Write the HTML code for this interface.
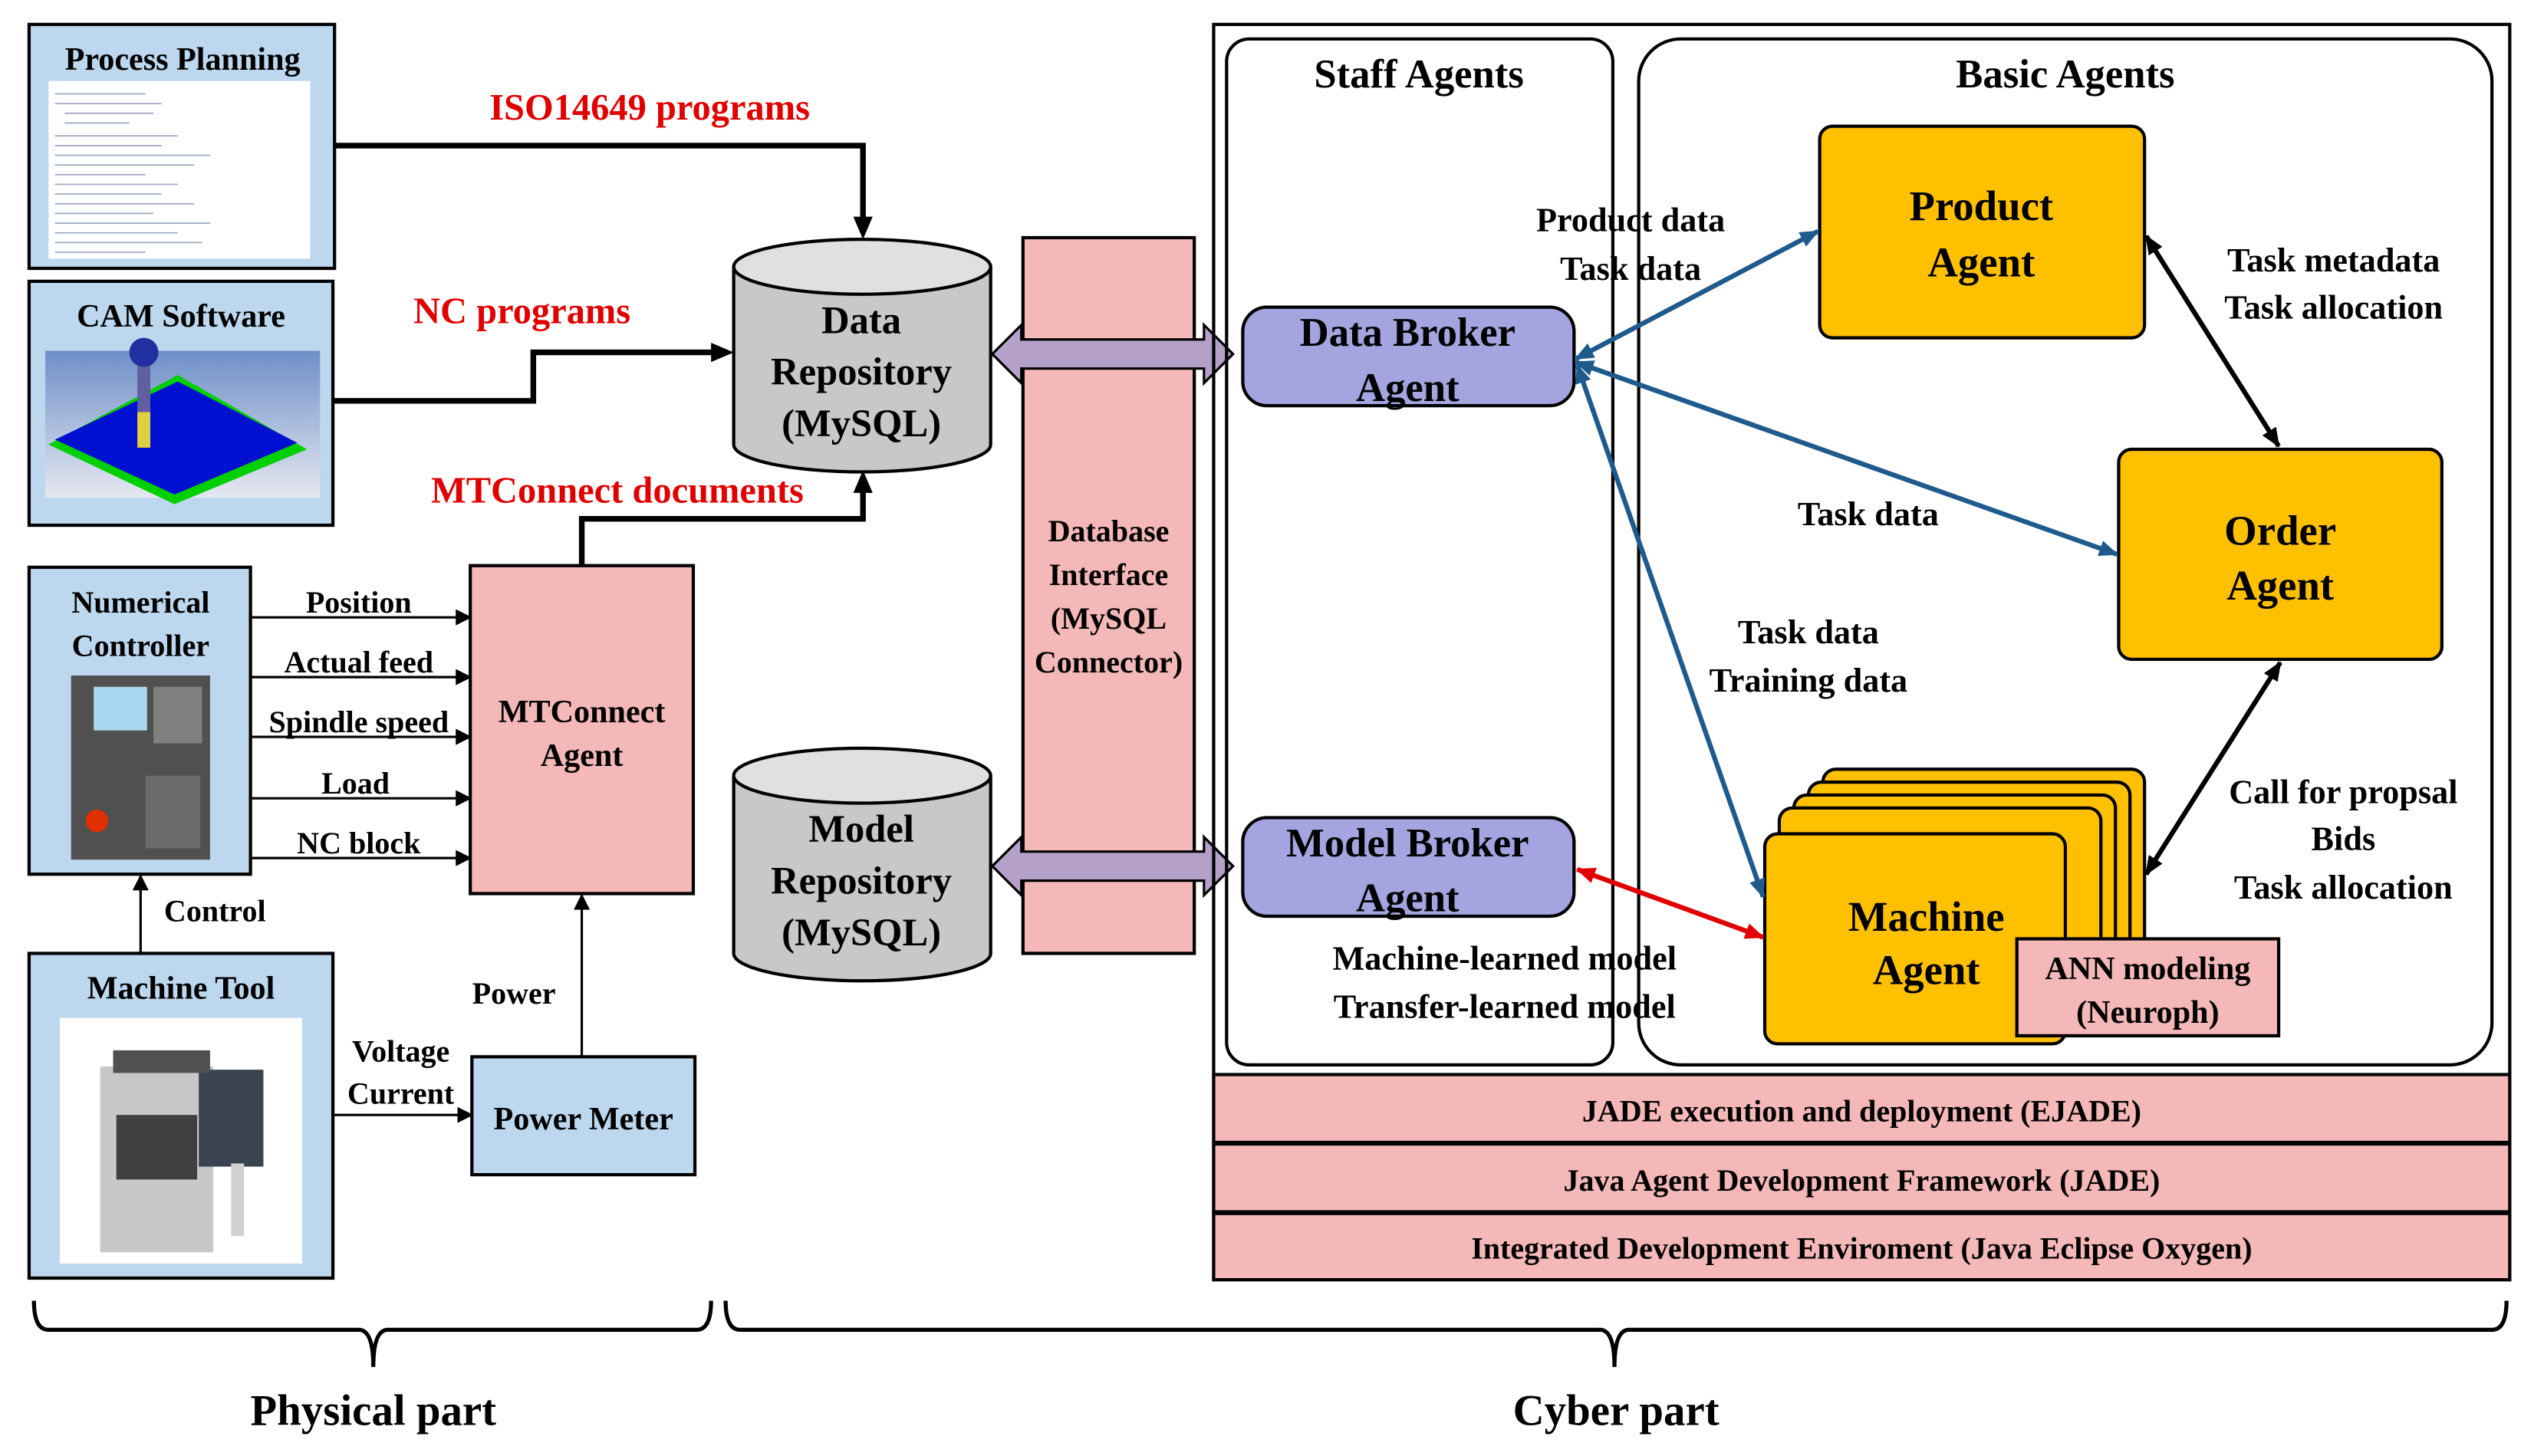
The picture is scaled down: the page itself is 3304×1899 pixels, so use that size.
<!DOCTYPE html>
<html><head><meta charset="utf-8"><style>
html,body{margin:0;padding:0;background:#fff;}
svg{display:block;}
text{font-family:"Liberation Serif",serif;font-weight:bold;}
</style></head><body>
<svg width="3304" height="1899" viewBox="0 0 1568 901" xmlns="http://www.w3.org/2000/svg">
<defs>
<marker id="ab" markerWidth="10" markerHeight="10" refX="9" refY="5" orient="auto-start-reverse" markerUnits="userSpaceOnUse"><path d="M0,0 L10,5 L0,10 z" fill="#000"/></marker>
<marker id="abl" markerWidth="12" markerHeight="10" refX="11" refY="5" orient="auto-start-reverse" markerUnits="userSpaceOnUse"><path d="M0,0 L12,5 L0,10 z" fill="#1f5a8c"/></marker>
<marker id="ar" markerWidth="12" markerHeight="10" refX="11" refY="5" orient="auto-start-reverse" markerUnits="userSpaceOnUse"><path d="M0,0 L12,5 L0,10 z" fill="#e00000"/></marker>
<marker id="ak" markerWidth="12" markerHeight="10" refX="11" refY="5" orient="auto-start-reverse" markerUnits="userSpaceOnUse"><path d="M0,0 L12,5 L0,10 z" fill="#000"/></marker>
<linearGradient id="camg" x1="0" y1="0" x2="0" y2="1"><stop offset="0" stop-color="#6e8fc8"/><stop offset="1" stop-color="#e6e8f0"/></linearGradient>
</defs>
<g fill="#000">
<rect x="18" y="15" width="189" height="151" fill="#bdd7ee" stroke="#000" stroke-width="2"/>
<text x="113" y="43" font-size="20" text-anchor="middle">Process Planning</text>
<rect x="30" y="50" width="162" height="110" fill="#fff"/>
<g stroke="#9aa4c0" stroke-width="0.8">
<line x1="34" y1="58" x2="90" y2="58"/><line x1="34" y1="64" x2="100" y2="64"/><line x1="40" y1="70" x2="95" y2="70"/><line x1="40" y1="76" x2="80" y2="76"/><line x1="34" y1="84" x2="110" y2="84"/><line x1="34" y1="90" x2="100" y2="90"/><line x1="34" y1="96" x2="130" y2="96"/><line x1="34" y1="102" x2="120" y2="102"/><line x1="34" y1="108" x2="90" y2="108"/><line x1="34" y1="114" x2="110" y2="114"/><line x1="34" y1="120" x2="100" y2="120"/><line x1="34" y1="126" x2="120" y2="126"/><line x1="34" y1="132" x2="95" y2="132"/><line x1="34" y1="138" x2="130" y2="138"/><line x1="34" y1="144" x2="110" y2="144"/><line x1="34" y1="150" x2="125" y2="150"/><line x1="34" y1="156" x2="90" y2="156"/>
</g>
<rect x="18" y="174" width="188" height="151" fill="#bdd7ee" stroke="#000" stroke-width="2"/>
<text x="112" y="202" font-size="20" text-anchor="middle">CAM Software</text>
<rect x="28" y="217" width="170" height="91" fill="url(#camg)"/>
<polygon points="30,275 110,232 190,278 108,312" fill="#00d000"/>
<polygon points="34,272 110,236 184,274 108,306" fill="#0010d0"/>
<rect x="85" y="215" width="8" height="45" fill="#6060a0"/><rect x="85" y="255" width="8" height="22" fill="#e0d040"/>
<circle cx="89" cy="218" r="9" fill="#2030a0"/>
<rect x="18" y="351" width="137" height="190" fill="#bdd7ee" stroke="#000" stroke-width="2"/>
<text x="87" y="379" font-size="19" text-anchor="middle">Numerical</text>
<text x="87" y="406" font-size="19" text-anchor="middle">Controller</text>
<rect x="44" y="418" width="86" height="114" fill="#505050"/>
<rect x="58" y="425" width="33" height="27" fill="#a8d8f0"/>
<rect x="95" y="425" width="30" height="35" fill="#808080"/>
<circle cx="60" cy="508" r="7" fill="#e03000"/><rect x="90" y="480" width="34" height="45" fill="#6a6a6a"/>
<rect x="18" y="590" width="188" height="201" fill="#bdd7ee" stroke="#000" stroke-width="2"/>
<text x="112" y="618" font-size="20" text-anchor="middle">Machine Tool</text>
<rect x="37" y="630" width="150" height="152" fill="#fff"/>
<rect x="62" y="660" width="70" height="115" fill="#c8c8c8"/><rect x="72" y="690" width="50" height="40" fill="#404040"/>
<rect x="123" y="662" width="40" height="60" fill="#3a4450"/><rect x="143" y="720" width="8" height="45" fill="#d0d0d0"/>
<rect x="70" y="650" width="60" height="14" fill="#505050"/>
<rect x="291" y="350" width="138" height="203" fill="#f4b8b8" stroke="#000" stroke-width="2"/>
<text x="360" y="447" font-size="20" text-anchor="middle">MTConnect</text>
<text x="360" y="474" font-size="20" text-anchor="middle">Agent</text>
<rect x="292" y="654" width="138" height="73" fill="#bdd7ee" stroke="#000" stroke-width="2"/>
<text x="361" y="699" font-size="20" text-anchor="middle">Power Meter</text>
<g stroke="#000" stroke-width="1.5" fill="none" marker-end="url(#ab)">
<line x1="155" y1="382" x2="291" y2="382"/><line x1="155" y1="419" x2="291" y2="419"/><line x1="155" y1="456" x2="291" y2="456"/><line x1="155" y1="494" x2="291" y2="494"/><line x1="155" y1="531" x2="291" y2="531"/>
<line x1="87" y1="590" x2="87" y2="542"/><line x1="206" y1="690" x2="292" y2="690"/><line x1="360" y1="654" x2="360" y2="554"/>
</g>
<g font-size="19" text-anchor="middle">
<text x="222" y="379">Position</text><text x="222" y="416">Actual feed</text><text x="222" y="453">Spindle speed</text><text x="220" y="491">Load</text><text x="222" y="528">NC block</text>
<text x="133" y="570">Control</text><text x="318" y="621">Power</text><text x="248" y="657">Voltage</text><text x="248" y="683">Current</text>
</g>
<g stroke="#000" stroke-width="3.5" fill="none">
<polyline points="207,90 534,90 534,136"/><polyline points="206,248 330,248 330,218 442,218"/><polyline points="360,350 360,321 534,321 534,303"/>
</g>
<path d="M528,134 L540,134 L534,148 z"/><path d="M440,212 L440,224 L454,218 z"/><path d="M528,305 L540,305 L534,291 z"/>
<g fill="#e00000" font-size="23" text-anchor="middle">
<text x="402" y="74">ISO14649 programs</text><text x="323" y="200">NC programs</text><text x="382" y="311">MTConnect documents</text>
</g>
<path d="M454,165 L454,275 A79.5,17 0 0 0 613,275 L613,165" fill="#c8c8c8" stroke="#000" stroke-width="2"/>
<ellipse cx="533.5" cy="165" rx="79.5" ry="17" fill="#e0e0e0" stroke="#000" stroke-width="2"/>
<g font-size="24" text-anchor="middle"><text x="533" y="206">Data</text><text x="533" y="238">Repository</text><text x="533" y="270">(MySQL)</text></g>
<path d="M454,480 L454,590 A79.5,17 0 0 0 613,590 L613,480" fill="#c8c8c8" stroke="#000" stroke-width="2"/>
<ellipse cx="533.5" cy="480" rx="79.5" ry="17" fill="#e0e0e0" stroke="#000" stroke-width="2"/>
<g font-size="24" text-anchor="middle"><text x="533" y="521">Model</text><text x="533" y="553">Repository</text><text x="533" y="585">(MySQL)</text></g>
<rect x="633" y="147" width="106" height="443" fill="#f4b8b8" stroke="#000" stroke-width="2"/>
<g font-size="19" text-anchor="middle"><text x="686" y="335">Database</text><text x="686" y="362">Interface</text><text x="686" y="389">(MySQL</text><text x="686" y="416">Connector)</text></g>
<path d="M614,219 L632,201 L632,210 L745,210 L745,201 L763,219 L745,237 L745,228 L632,228 L632,237 z" fill="#b4a0c8" stroke="#000" stroke-width="1.5"/>
<path d="M614,536 L632,518 L632,527 L745,527 L745,518 L763,536 L745,554 L745,545 L632,545 L632,554 z" fill="#b4a0c8" stroke="#000" stroke-width="1.5"/>
<rect x="751" y="15" width="802" height="777" fill="none" stroke="#000" stroke-width="2"/>
<rect x="759" y="24" width="239" height="635" rx="14" fill="none" stroke="#000" stroke-width="2"/>
<rect x="1014" y="24" width="528" height="635" rx="26" fill="none" stroke="#000" stroke-width="2"/>
<text x="878" y="54" font-size="25" text-anchor="middle">Staff Agents</text>
<text x="1278" y="54" font-size="25" text-anchor="middle">Basic Agents</text>
<rect x="769" y="190" width="205" height="61" rx="15" fill="#a4a4e0" stroke="#000" stroke-width="2"/>
<g font-size="25" text-anchor="middle"><text x="871" y="214">Data Broker</text><text x="871" y="248">Agent</text></g>
<rect x="769" y="506" width="205" height="61" rx="15" fill="#a4a4e0" stroke="#000" stroke-width="2"/>
<g font-size="25" text-anchor="middle"><text x="871" y="530">Model Broker</text><text x="871" y="564">Agent</text></g>
<rect x="1126" y="78" width="201" height="131" rx="8" fill="#ffc000" stroke="#000" stroke-width="2"/>
<g font-size="26" text-anchor="middle"><text x="1226" y="136">Product</text><text x="1226" y="171">Agent</text></g>
<rect x="1311" y="278" width="200" height="130" rx="8" fill="#ffc000" stroke="#000" stroke-width="2"/>
<g font-size="26" text-anchor="middle"><text x="1411" y="337">Order</text><text x="1411" y="371">Agent</text></g>
<rect x="1128" y="476" width="199" height="130" rx="8" fill="#ffc000" stroke="#000" stroke-width="2"/>
<rect x="1119" y="484" width="199" height="130" rx="8" fill="#ffc000" stroke="#000" stroke-width="2"/>
<rect x="1110" y="492" width="199" height="130" rx="8" fill="#ffc000" stroke="#000" stroke-width="2"/>
<rect x="1101" y="500" width="199" height="130" rx="8" fill="#ffc000" stroke="#000" stroke-width="2"/>
<rect x="1092" y="516" width="186" height="130" rx="8" fill="#ffc000" stroke="#000" stroke-width="2"/>
<g font-size="26" text-anchor="middle"><text x="1192" y="576">Machine</text><text x="1192" y="609">Agent</text></g>
<rect x="1248" y="581" width="162" height="60" fill="#f4b8b8" stroke="#000" stroke-width="2"/>
<g font-size="20" text-anchor="middle"><text x="1329" y="606">ANN modeling</text><text x="1329" y="633">(Neuroph)</text></g>
<g stroke="#1f5a8c" stroke-width="3" marker-start="url(#abl)" marker-end="url(#abl)">
<line x1="975" y1="222" x2="1125" y2="143"/><line x1="975" y1="224" x2="1310" y2="343"/><line x1="976" y1="226" x2="1091" y2="555"/>
</g>
<g stroke="#000" stroke-width="3" marker-start="url(#ak)" marker-end="url(#ak)">
<line x1="1328" y1="146" x2="1410" y2="276"/><line x1="1411" y1="410" x2="1328" y2="541"/>
</g>
<line x1="976" y1="538" x2="1091" y2="580" stroke="#e00000" stroke-width="3" marker-start="url(#ar)" marker-end="url(#ar)"/>
<g font-size="21" text-anchor="middle">
<text x="1009" y="143">Product data</text><text x="1009" y="173">Task data</text>
<text x="1444" y="168">Task metadata</text><text x="1444" y="197">Task allocation</text>
<text x="1156" y="325">Task data</text>
<text x="1119" y="398">Task data</text><text x="1119" y="428">Training data</text>
<text x="1450" y="497">Call for propsal</text><text x="1450" y="526">Bids</text><text x="1450" y="556">Task allocation</text>
<text x="931" y="600">Machine-learned model</text><text x="931" y="630">Transfer-learned model</text>
</g>
<rect x="751" y="665" width="802" height="42" fill="#f4b8b8" stroke="#000" stroke-width="2"/>
<rect x="751" y="708" width="802" height="42" fill="#f4b8b8" stroke="#000" stroke-width="2"/>
<rect x="751" y="751" width="802" height="41" fill="#f4b8b8" stroke="#000" stroke-width="2"/>
<g font-size="19" text-anchor="middle">
<text x="1152" y="694">JADE execution and deployment (EJADE)</text>
<text x="1152" y="737">Java Agent Development Framework (JADE)</text>
<text x="1152" y="779">Integrated Development Enviroment (Java Eclipse Oxygen)</text>
</g>
<g fill="none" stroke="#000" stroke-width="2.5">
<path d="M21,805 Q21,823 30,823 L222,823 Q231,823 231,846 Q231,823 240,823 L431,823 Q440,823 440,805"/>
<path d="M449,805 Q449,823 458,823 L990,823 Q999,823 999,846 Q999,823 1008,823 L1542,823 Q1551,823 1551,805"/>
</g>
<text x="231" y="882" font-size="27" text-anchor="middle">Physical part</text>
<text x="1000" y="882" font-size="27" text-anchor="middle">Cyber part</text>
</g>
</svg>
</body></html>
